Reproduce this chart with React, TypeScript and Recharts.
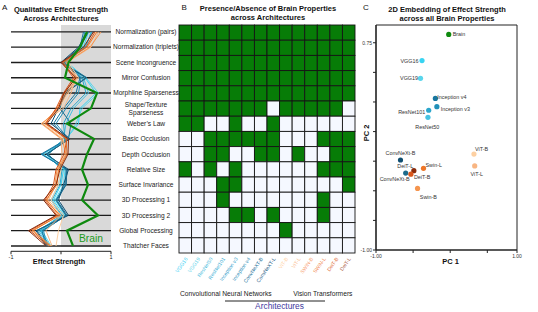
import React from 'react';
import { LineChart, Line, XAxis, YAxis, ReferenceArea, ReferenceLine, ScatterChart, Scatter } from 'recharts';

const FONT = '"Liberation Sans", Arial, Helvetica, sans-serif';

// ---------- categories ----------
const properties = [
  'Normalization (pairs)', 'Normalization (triplets)', 'Scene Incongruence', 'Mirror Confusion',
  'Morphline Sparseness', 'Shape/Texture Sparseness', 'Weber\u2019s Law', 'Basic Occlusion',
  'Depth Occlusion', 'Relative Size', 'Surface Invariance', '3D Processing 1', '3D Processing 2',
  'Global Processing', 'Thatcher Faces',
];

const models = ['VGG16', 'VGG19', 'ResNet50', 'ResNet101', 'Inception v3', 'Inception v4', 'ConvNeXt-B', 'ConvNeXt-L',
  'ViT-B', 'ViT-L', 'Swin-B', 'Swin-L', 'DeiT-B', 'DeiT-L'];

const archLabels = ['VGG16', 'VGG19', 'ResNet50', 'ResNet101', 'Inception v3', 'Inception v4', 'ConvNeXT-B', 'ConvNeXT-L',
  'ViT-B', 'ViT-L', 'SWIN-B', 'SWIN-L', 'DeiT-B', 'DeiT-L'];

const modelColors = ['#38d4f2', '#5ad6ec', '#45c2e2', '#2ba6cc', '#2290b8', '#1877a0', '#0f4d70', '#1d6a8a',
  '#fdd0a2', '#f8b582', '#f5954f', '#ee7628', '#d9561a', '#8a2c0c'];

const archLabelColors = ['#35d0f5', '#5cd2ea', '#52c0de', '#42b0d6', '#329ecb', '#2e8eb8', '#23719a', '#1f6188',
  '#ffd3a8', '#fbbf95', '#f8a476', '#f28e5c', '#df7444', '#b06a50'];

const brainColor = '#0f8a0f';

// ---------- Panel A: effect strength (rows in property order) ----------
const effVGG16 = [0.55, 0.45, 0.12, 0.48, 0.70, 0.38, 0.35, 0.10, -0.30, 0.05, 0.00, -0.15, 0.05, -0.40, -0.25];
const effVGG19 = [0.50, 0.42, 0.10, 0.50, 0.75, 0.42, 0.30, 0.12, -0.35, 0.08, 0.05, -0.12, 0.08, -0.38, -0.20];
const effResNet50 = [0.60, 0.50, 0.08, 0.45, 0.55, 0.25, 0.10, 0.05, -0.28, 0.00, -0.05, -0.20, 0.00, -0.45, -0.25];
const effResNet101 = [0.62, 0.48, 0.10, 0.42, 0.50, 0.20, 0.05, 0.08, -0.25, 0.02, -0.02, -0.18, 0.02, -0.42, -0.22];
const effIncV3 = [0.48, 0.40, 0.05, 0.40, 0.35, 0.10, -0.10, 0.15, -0.38, 0.10, 0.08, -0.10, 0.10, -0.35, -0.28];
const effIncV4 = [0.45, 0.38, 0.06, 0.38, 0.30, 0.05, -0.15, 0.12, -0.40, 0.12, 0.10, -0.08, 0.12, -0.38, -0.30];
const effConvNeXtB = [0.52, 0.35, 0.00, 0.50, 0.10, -0.05, -0.20, 0.18, -0.30, 0.15, 0.05, -0.05, 0.15, -0.50, -0.30];
const effConvNeXtL = [0.55, 0.38, 0.02, 0.52, 0.05, -0.02, 0.20, 0.15, -0.28, 0.12, 0.10, -0.10, 0.10, -0.48, -0.28];
const effViTB = [0.70, 0.55, 0.15, 0.35, 0.15, 0.00, -0.35, 0.05, 0.08, 0.00, -0.05, -0.20, 0.05, -0.05, -0.10];
const effViTL = [0.75, 0.60, 0.12, 0.30, 0.20, 0.05, -0.40, 0.00, 0.02, -0.05, -0.10, -0.25, 0.00, -0.30, -0.18];
const effSwinB = [0.80, 0.58, 0.10, 0.32, 0.12, -0.05, -0.38, 0.02, 0.10, -0.08, -0.12, -0.28, -0.05, -0.55, -0.20];
const effSwinL = [0.72, 0.52, 0.05, 0.28, 0.08, -0.08, -0.32, 0.10, 0.12, -0.05, -0.08, -0.30, -0.02, -0.58, -0.22];
const effDeiTB = [0.68, 0.50, 0.02, 0.25, 0.05, -0.10, -0.30, 0.12, 0.06, -0.10, -0.15, -0.32, -0.08, -0.62, -0.25];
const effDeiTL = [0.65, 0.45, 0.00, 0.30, 0.06, -0.05, -0.28, 0.15, 0.14, -0.02, -0.10, -0.35, -0.10, -0.65, -0.30];
const effBrain = [0.52, 0.38, 0.15, 0.08, 0.72, 0.60, 0.12, 0.66, 0.52, 0.42, 0.54, 0.42, 0.74, 0.12, 0.24];

const modelEffects = [effVGG16, effVGG19, effResNet50, effResNet101, effIncV3, effIncV4, effConvNeXtB, effConvNeXtL,
  effViTB, effViTL, effSwinB, effSwinL, effDeiTB, effDeiTL];

const effectTicks = [-1, 0, 1];

// ---------- Panel B: presence (1) / absence (0), rows in property order ----------
const presence = [
  [1, 1, 1, 1, 1, 1, 1, 1, 1, 1, 1, 1, 1, 1],
  [1, 1, 1, 1, 1, 1, 1, 1, 1, 1, 1, 1, 1, 1],
  [1, 1, 1, 1, 1, 1, 1, 1, 1, 1, 1, 1, 1, 1],
  [1, 1, 1, 1, 1, 1, 1, 1, 1, 1, 1, 1, 1, 1],
  [1, 1, 1, 1, 1, 1, 1, 1, 1, 1, 1, 1, 1, 1],
  [1, 1, 1, 1, 1, 1, 1, 0, 1, 1, 1, 1, 1, 0],
  [1, 1, 0, 0, 1, 0, 0, 1, 0, 0, 0, 0, 0, 0],
  [0, 0, 1, 1, 1, 1, 1, 1, 0, 0, 0, 1, 1, 1],
  [0, 0, 1, 1, 0, 0, 1, 1, 0, 1, 0, 0, 1, 1],
  [1, 0, 1, 0, 1, 0, 0, 0, 0, 0, 0, 1, 1, 1],
  [0, 0, 0, 1, 1, 0, 0, 0, 0, 0, 0, 0, 0, 1],
  [0, 0, 0, 1, 0, 0, 0, 0, 0, 0, 0, 1, 0, 0],
  [0, 0, 0, 0, 1, 1, 0, 1, 0, 0, 0, 1, 0, 0],
  [0, 0, 0, 0, 0, 0, 0, 0, 1, 0, 0, 0, 0, 0],
  [0, 0, 0, 0, 0, 0, 0, 0, 0, 0, 0, 0, 0, 0],
];

// ---------- Panel C: 2D embedding ----------
const pcNames = ['Brain', 'VGG16', 'VGG19', 'Inception v4', 'Inception v3', 'ResNet101', 'ResNet50', 'ViT-B',
  'ConvNeXt-B', 'ViT-L', 'Swin-L', 'DeiT-L', 'ConvNeXt-L', 'DeiT-B', 'Swin-B'];
const pcLabels = ['Brain', 'VGG16', 'VGG19', 'Inception v4', 'Inception v3', 'ResNet101', 'ResNet50', 'ViT-B',
  'ConvNeXt-B', 'ViT-L', 'Swin-L', 'DeiT-L', 'ConvNeXt-B', 'DeiT-B', 'Swin-B'];
const pc1 = [-0.02, -0.38, -0.40, -0.20, -0.18, -0.29, -0.30, 0.32, -0.67, 0.33, -0.36, -0.49, -0.60, -0.53, -0.44];
const pc2 = [0.82, 0.60, 0.45, 0.28, 0.21, 0.18, 0.12, -0.19, -0.24, -0.29, -0.31, -0.33, -0.35, -0.36, -0.48];
const pcXTicks = [-1, -0.5, 0, 0.5, 0.9];
const pcYTicks = [-1, -0.75, -0.5, -0.25, 0, 0.25, 0.5, 0.75];

// ---------- derived tables ----------
const rowsA = properties.map((p, i) => {
  const r: any = { row: i + 1, name: p, Brain: effBrain[i] };
  models.forEach((m, k) => { r[m] = modelEffects[k][i]; });
  return r;
});

const cellsB: any[] = [];
presence.forEach((rowVals, r) => rowVals.forEach((v, c) => cellsB.push({ col: c + 0.5, row: r + 0.5, v })));

const colorByName: Record<string, string> = { Brain: brainColor };
models.forEach((m, k) => { colorByName[m] = modelColors[k]; });
const pointsC = pcNames.map((n, i) => ({ name: n, label: pcLabels[i], x: pc1[i], y: pc2[i], color: colorByName[n] }));

// label placement (style only)
const labelPos: Record<string, { dx: number; dy: number; a: string }> = {
  'Brain': { dx: 4, dy: 2, a: 'start' },
  'VGG16': { dx: -3.5, dy: 2, a: 'end' },
  'VGG19': { dx: -2.5, dy: 2, a: 'end' },
  'Inception v4': { dx: 2, dy: 0.3, a: 'start' },
  'Inception v3': { dx: 4, dy: 4.3, a: 'start' },
  'ResNet101': { dx: -3.5, dy: 3.7, a: 'end' },
  'ResNet50': { dx: -0.7, dy: 11.3, a: 'middle' },
  'ViT-B': { dx: 1, dy: -3.3, a: 'start' },
  'ConvNeXt-B': { dx: 0, dy: -5, a: 'middle' },
  'ViT-L': { dx: 2, dy: 9.7, a: 'middle' },
  'Swin-L': { dx: 2, dy: -1, a: 'start' },
  'DeiT-L': { dx: -0.7, dy: -2.7, a: 'end' },
  'ConvNeXt-L': { dx: 4, dy: 7.7, a: 'end' },
  'DeiT-B': { dx: 3, dy: 4.3, a: 'start' },
  'Swin-B': { dx: 2.3, dy: 10.3, a: 'start' },
};

const GREEN = '#077c07';
const WHITE = '#f5f8ff';
const CELL_W = 176 / 14;
const CELL_H = 228 / 15;

const RowTick = (props: any) => {
  const { x, y, payload } = props;
  const name = properties[Math.round(payload.value) - 1];
  if (!name) return null;
  const parts = name === 'Shape/Texture Sparseness' ? ['Shape/Texture', 'Sparseness'] : [name];
  return (
    <text x={x} y={y} textAnchor="middle" fontSize={6.6} fill="#222" fontFamily={FONT}>
      {parts.length === 1
        ? <tspan x={x} dy={2.3}>{parts[0]}</tspan>
        : [<tspan key="a" x={x} dy={-1.8}>{parts[0]}</tspan>, <tspan key="b" x={x} dy={8.2}>{parts[1]}</tspan>]}
    </text>
  );
};

const ArchTick = (props: any) => {
  const { x, y, payload } = props;
  const i = Math.round(payload.value - 0.5);
  return (
    <text transform={`translate(${x + 2.5},${y + 6}) rotate(-55)`} textAnchor="end" fontSize={5.1}
      fill={archLabelColors[i]} fontFamily={FONT}>{archLabels[i]}</text>
  );
};

const CellShape = (props: any) => {
  const { cx, cy, payload } = props;
  return <rect x={cx - CELL_W / 2} y={cy - CELL_H / 2} width={CELL_W} height={CELL_H}
    fill={payload.v ? GREEN : WHITE} stroke="#151515" strokeWidth={0.9} />;
};

const PointShape = (props: any) => {
  const { cx, cy, payload } = props;
  const o = labelPos[payload.name];
  return (
    <g>
      <circle cx={cx} cy={cy} r={2.6} fill={payload.color} />
      <text x={cx + o.dx} y={cy + o.dy} textAnchor={o.a as any} fontSize={5.4} fill="#333" fontFamily={FONT}>{payload.label}</text>
    </g>
  );
};

const fmtEffect = (v: number) => (v === 0 ? '' : String(v));
const fmtPcX = (v: number) => (v === -1 ? '-1.00' : v === 0.9 ? '1.00' : '');
const fmtPcY = (v: number) => (v === -1 ? '-1.00' : v === 0.75 ? '0.75' : '');

export default function App() {
  const rowTicks = properties.map((_, i) => i + 1);
  const colTicks = archLabels.map((_, i) => i + 0.5);
  const tStyle = { fontFamily: FONT };
  return (
    <div style={{ position: 'absolute', left: 0, top: 0, width: 538, height: 312, background: '#fff', overflow: 'hidden' }}>
      {/* Panel A */}
      <div style={{ position: 'absolute', left: 0, top: 0 }}>
        <LineChart width={180} height={270} layout="vertical" data={rowsA}
          margin={{ top: 25, right: 0, left: 11, bottom: 0 }}>
          <XAxis type="number" domain={[-1, 1]} ticks={effectTicks} tickFormatter={fmtEffect}
            height={18.7} tickSize={3} tickMargin={1} axisLine={{ stroke: '#222', strokeWidth: 1 }}
            tickLine={{ stroke: '#222' }} tick={{ fontSize: 5.5, fill: '#222', fontFamily: FONT }} interval={0} />
          <YAxis type="number" dataKey="row" domain={[0.55, 15.35]} orientation="right" width={69}
            ticks={rowTicks} interval={0} tickSize={0} tickMargin={35} axisLine={false} tickLine={false}
            tick={<RowTick />} allowDataOverflow />
          <ReferenceArea x1={0} x2={1} y1={0.55} y2={15.05} fill="#d9d9d9" fillOpacity={1} stroke="none" />
          {rowTicks.map((r) => (
            <ReferenceLine key={r} y={r} stroke="#1c1c1c" strokeWidth={1.4} />
          ))}
          {models.map((m, k) => (
            <Line key={m} dataKey={m} stroke={modelColors[k]} strokeWidth={1} dot={false} isAnimationActive={false} />
          ))}
          <Line dataKey="Brain" stroke={brainColor} strokeWidth={2.2} dot={false} isAnimationActive={false} />
        </LineChart>
      </div>

      {/* Panel B */}
      <div style={{ position: 'absolute', left: 170, top: 0 }}>
        <ScatterChart width={200} height={312} margin={{ top: 25, right: 15, left: 9, bottom: 0 }}>
          <XAxis type="number" dataKey="col" domain={[0, 14]} ticks={colTicks} interval={0} height={59}
            axisLine={false} tickLine={false} tickSize={0} tickMargin={0} tick={<ArchTick />} />
          <YAxis type="number" dataKey="row" domain={[0, 15]} reversed hide />
          <Scatter data={cellsB} shape={<CellShape />} isAnimationActive={false} />
          <ReferenceLine x={8} stroke="#000" strokeWidth={2.6} />
        </ScatterChart>
      </div>

      {/* Panel C */}
      <div style={{ position: 'absolute', left: 340, top: 0 }}>
        <ScatterChart width={198} height={312} margin={{ top: 25, right: 21, left: 11, bottom: 50 }}>
          <XAxis type="number" dataKey="x" domain={[-1, 0.9]} ticks={pcXTicks} interval={0} height={12}
            tickFormatter={fmtPcX} tickSize={3} tickMargin={1} allowDataOverflow
            axisLine={{ stroke: '#222', strokeWidth: 1.2 }} tickLine={{ stroke: '#222' }}
            tick={{ fontSize: 5, fill: '#333', fontFamily: FONT }} />
          <YAxis type="number" dataKey="y" domain={[-1, 0.9]} ticks={pcYTicks} interval={0} width={25}
            tickFormatter={fmtPcY} tickSize={3} tickMargin={1} allowDataOverflow
            axisLine={{ stroke: '#222', strokeWidth: 1.2 }} tickLine={{ stroke: '#222' }}
            tick={{ fontSize: 5, fill: '#333', fontFamily: FONT }} />
          <ReferenceArea x1={-1} x2={0.9} y1={-1} y2={0.9} fill="none" stroke="#222" strokeWidth={1} />
          <Scatter data={pointsC} shape={<PointShape />} isAnimationActive={false} />
        </ScatterChart>
      </div>

      {/* Titles and annotations */}
      <svg width={538} height={312} style={{ position: 'absolute', left: 0, top: 0, pointerEvents: 'none' }}>
        <g style={tStyle} fill="#111">
          <text x={2} y={9.5} fontSize={8}>A</text>
          <text x={181.5} y={9.5} fontSize={8}>B</text>
          <text x={363} y={10} fontSize={8}>C</text>

          <text x={61} y={12.3} fontSize={7.5} fontWeight="bold" textAnchor="middle">Qualitative Effect Strength</text>
          <text x={61} y={21} fontSize={7.5} fontWeight="bold" textAnchor="middle">Across Architectures</text>

          <text x={268} y={10.5} fontSize={7.5} fontWeight="bold" textAnchor="middle">Presence/Absence of Brain Properties</text>
          <text x={268} y={19.8} fontSize={7.5} fontWeight="bold" textAnchor="middle">across Architectures</text>

          <text x={447} y={12.3} fontSize={7.5} fontWeight="bold" textAnchor="middle">2D Embedding of Effect Strength</text>
          <text x={447} y={21} fontSize={7.5} fontWeight="bold" textAnchor="middle">across all Brain Properties</text>

          <text x={59} y={263.5} fontSize={7.3} fontWeight="bold" textAnchor="middle">Effect Strength</text>
          <text x={79} y={241.7} fontSize={10.3} fill="#1c9a1c">Brain</text>

          <text x={225.8} y={295.7} fontSize={6.7} textAnchor="middle" fill="#222">Convolutional Neural Networks</text>
          <text x={322.8} y={295.7} fontSize={6.7} textAnchor="middle" fill="#222">Vision Transformers</text>
          <line x1={225} x2={325} y1={301} y2={301} stroke="#222" strokeWidth={1} />
          <text x={279.5} y={309.3} fontSize={8.4} textAnchor="middle" fill="#3f3a9e">Architectures</text>

          <text x={450.5} y={263.5} fontSize={7.5} fontWeight="bold" textAnchor="middle">PC 1</text>
          <text transform="translate(369,133) rotate(-90)" fontSize={7.5} fontWeight="bold" textAnchor="middle">PC 2</text>
        </g>
      </svg>
    </div>
  );
}
